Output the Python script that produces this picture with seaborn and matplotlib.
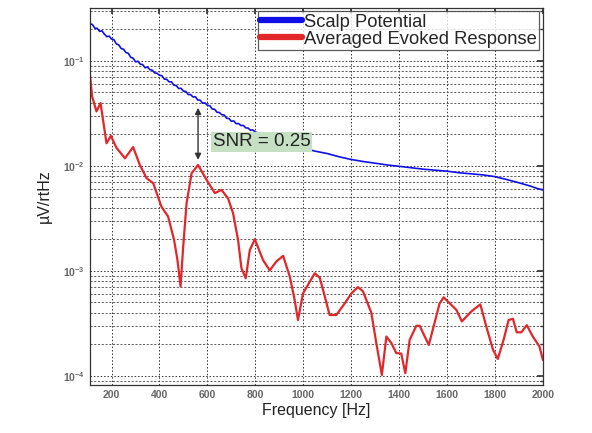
import numpy as np
import pandas as pd
import matplotlib
matplotlib.use("Agg")
import matplotlib.pyplot as plt
import seaborn as sns
from matplotlib.ticker import LogLocator, FixedLocator

# ---- data ----
blue_freq = [110, 120, 130, 140, 150, 160, 170, 180, 190, 200, 210, 220, 230, 240, 250,
             260, 270, 280, 290, 300, 310, 320, 330, 340, 350, 360, 370, 380, 390, 400,
             410, 420, 430, 440, 450, 460, 470, 480, 490, 500, 510, 520, 530, 540, 550,
             560, 570, 580, 590, 600, 610, 620, 630, 640, 650, 660, 670, 680, 690, 700,
             710, 720, 730, 740, 750, 760, 770, 780, 790, 800, 820, 840, 860, 880, 900,
             920, 940, 960, 980, 1000, 1050, 1100, 1150, 1200, 1250, 1300, 1350, 1400,
             1450, 1500, 1550, 1600, 1650, 1700, 1750, 1800, 1850, 1900, 1950, 1975, 2000]
blue_vals = [0.225, 0.222, 0.205, 0.204, 0.191, 0.193, 0.180, 0.170, 0.172, 0.161,
             0.159, 0.145, 0.142, 0.131, 0.129, 0.120, 0.118, 0.108, 0.106, 0.098,
             0.099, 0.093, 0.0920, 0.0859, 0.0873, 0.0824, 0.0815, 0.0767, 0.0762, 0.0728,
             0.0723, 0.0670, 0.0668, 0.0631, 0.0632, 0.0586, 0.0582, 0.0545, 0.0548, 0.0515,
             0.0511, 0.0478, 0.0477, 0.0453, 0.0455, 0.0423, 0.0422, 0.0395, 0.0398, 0.0377,
             0.0374, 0.0348, 0.0346, 0.0324, 0.0322, 0.0307, 0.0305, 0.0284, 0.0282, 0.0266,
             0.0268, 0.0252, 0.0253, 0.0242, 0.0243, 0.0230, 0.0229, 0.0218, 0.0220, 0.0210,
             0.0203, 0.0189, 0.0184, 0.0172, 0.0165, 0.0161, 0.0157, 0.0153, 0.0150, 0.0147,
             0.0138, 0.0131, 0.0122, 0.0115, 0.0110, 0.0106, 0.0102, 0.0099, 0.0096, 0.0093,
             0.0091, 0.0089, 0.0086, 0.0084, 0.0082, 0.0079, 0.0074, 0.0069, 0.0064, 0.0061, 0.0059]

red_freq = [110, 119, 137, 154, 179, 197, 221, 256, 290, 318, 346, 374, 408, 436, 461, 475,
            488, 499, 513, 534, 561, 596, 631, 659, 686, 707, 728, 742, 760, 777, 798, 832,
            860, 888, 916, 944, 964, 978, 999, 1048, 1069, 1090, 1110, 1138, 1173, 1201, 1228,
            1249, 1284, 1305, 1328, 1347, 1368, 1388, 1409, 1426, 1444, 1472, 1486, 1507, 1524,
            1548, 1569, 1586, 1618, 1639, 1662, 1701, 1739, 1764, 1792, 1812, 1836, 1857, 1875,
            1891, 1910, 1933, 1958, 1986, 2000]
red_vals = [0.0735, 0.0457, 0.033, 0.0396, 0.0164, 0.0193, 0.0148, 0.0118, 0.0151, 0.0102,
            0.00764, 0.00684, 0.0041, 0.00329, 0.00197, 0.00127, 0.00071, 0.0017, 0.0044, 0.0085,
            0.0102, 0.0074, 0.0055, 0.0059, 0.0049, 0.00355, 0.00197, 0.00106, 0.00085, 0.00158,
            0.0020, 0.00127, 0.00101, 0.00123, 0.00139, 0.00088, 0.00053, 0.00034, 0.00061,
            0.00095, 0.00086, 0.00057, 0.00038, 0.00038, 0.00049, 0.00061, 0.0007, 0.00064,
            0.0004, 0.000205, 0.000102, 0.000237, 0.000205, 0.000165, 0.000163, 0.000106,
            0.00022, 0.0003, 0.0003, 0.000237, 0.000197, 0.00032, 0.00049, 0.00056, 0.000474,
            0.000425, 0.00033, 0.00041, 0.00048, 0.000295, 0.000177, 0.000145, 0.00022, 0.00034,
            0.00035, 0.00026, 0.00026, 0.000304, 0.000237, 0.00019, 0.000142]

series_names = ["Scalp Potential", "Averaged Evoked Response"]
x_ticks = [200, 400, 600, 800, 1000, 1200, 1400, 1600, 1800, 2000]
snr_label = "SNR = 0.25"
snr_freq = 561
snr_top = 0.0357
snr_bottom = 0.0114

df = pd.concat([
    pd.DataFrame({"f": blue_freq, "v": blue_vals, "s": series_names[0]}),
    pd.DataFrame({"f": red_freq, "v": red_vals, "s": series_names[1]}),
])

sns.set_theme(style="white")
plt.rcParams['font.family'] = ['Liberation Sans', 'DejaVu Sans']

fig = plt.figure(figsize=(5.92, 4.33), dpi=100)
ax = fig.add_axes([0.152, 0.111, 0.765, 0.871])

sns.lineplot(data=df, x="f", y="v", hue="s", palette=["#1010e6", "#e3262a"],
             ax=ax, sort=False, estimator=None)
lw = [1.2, 1.6]
for line, w in zip(ax.get_lines(), lw):
    line.set_linewidth(w)

ax.set_yscale("log")
ax.set_xlim(110, 2000)
ax.set_ylim(8.2e-5, 0.32)
ax.xaxis.set_major_locator(FixedLocator(x_ticks))
ax.yaxis.set_major_locator(LogLocator(base=10, numticks=10))
ax.yaxis.set_minor_locator(LogLocator(base=10, subs=np.arange(2, 10), numticks=20))

ax.grid(True, which="major", axis="both", color="#333333", linestyle=(0, (1.5, 2)), linewidth=0.7)
ax.grid(True, which="minor", axis="y", color="#444444", linestyle=(0, (2.5, 2)), linewidth=0.6)

for sp in ax.spines.values():
    sp.set_color("#333333")
    sp.set_linewidth(0.9)

ax.tick_params(axis="both", which="both", direction="in", top=True, right=True,
               colors="#333333", labelcolor="#666666", labelsize=7.5)
ax.tick_params(axis="both", which="major", length=4)
ax.tick_params(axis="y", which="minor", length=2)
for lab in ax.get_xticklabels() + ax.get_yticklabels():
    lab.set_fontweight("bold")

ax.set_xlabel("Frequency [Hz]", fontsize=11.5, color="#222222", labelpad=2)
ax.set_ylabel("µV/rtHz", fontsize=11.5, color="#222222", labelpad=8)

leg = ax.legend(loc="upper right", frameon=True, fancybox=False, fontsize=13.2,
                borderpad=0.12, labelspacing=0.0, handlelength=2.3, handletextpad=0.12,
                borderaxespad=0.2)
leg.get_frame().set_edgecolor("#333333")
leg.get_frame().set_linewidth(0.9)
for line in leg.get_lines():
    line.set_linewidth(4.5)

ax.annotate("", xy=(snr_freq, snr_bottom), xytext=(snr_freq, snr_top),
            arrowprops=dict(arrowstyle="<|-|>", color="#333333", lw=1.0,
                            mutation_scale=9, shrinkA=0, shrinkB=0))
ax.text(622, 0.0169, snr_label, fontsize=13.5, color="#222222", va="center", ha="left",
        bbox=dict(boxstyle="square,pad=0.1", facecolor="#c6e0c4", edgecolor="none"))

fig.savefig("out.png", dpi=100, facecolor="white")
